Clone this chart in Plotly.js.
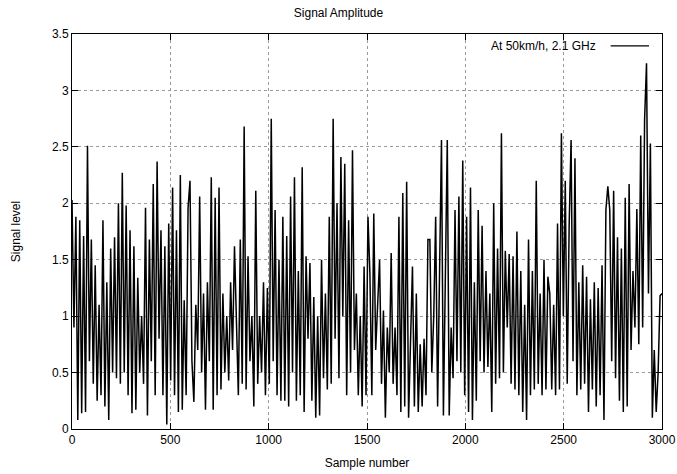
<!DOCTYPE html>
<html>
<head>
<meta charset="utf-8">
<script src="https://cdn.plot.ly/plotly-3.0.1.min.js"></script>
<style>html,body{margin:0;padding:0;background:#fff;}#chart{width:677px;height:474px;}</style>
</head>
<body>
<div id="chart"></div>
<script>
// Signal level values, left to right (approx. every 10 samples)
const seg1 = [2.03,0.9,1.88,0.08,1.85,0.14,1.71,0.15,2.51,0.6,1.68,0.4,1.45,0.25,1.1,0.3,1.85,0.2,1.3,0.08,1.6,0.5,1.7,0.45,2.0,0.4,2.27,0.5,1.98,0.3];
const seg2 = [1.76,0.14,1.62,0.17,1.34,0.5,1.0,0.4,1.96,0.12,1.68,0.6,2.17,0.3,2.37,0.8,1.76,0.3,1.62,0.04,1.82,0.43,2.14,0.3,1.76,0.15,2.25,0.17,1.14,0.3,1.96];
const seg3 = [2.2,0.6,0.24,1.1,0.7,2.06,0.5,1.2,0.17,1.3,0.6,2.23,0.17,2.05,0.3,2.14,0.35,1.2,0.5,1.0,0.43,1.3,0.7,1.62,0.8,0.3,1.68,0.4,2.68,0.35,1.53];
const seg4 = [0.6,1.0,0.2,2.11,0.4,1.0,0.5,1.3,0.3,1.25,0.4,2.75,0.6,1.94,0.3,1.5,0.25,1.88,0.25,1.71,0.2,2.06,0.5,2.23,0.25,1.4,0.3,2.32,0.15,1.53,0.8];
const seg5 = [1.47,0.25,1.17,0.1,1.0,0.12,1.5,0.45,1.2,0.35,1.88,0.4,2.75,0.8,2.0,0.45,2.41,1.0,2.35,0.3,1.85,0.5,2.47,0.7,1.2,0.3,1.0,0.2,1.44,0.3,1.88];
const seg6 = [1.38,0.3,1.91,0.7,1.1,1.5,0.4,1.05,0.1,0.9,0.5,1.56,0.4,0.9,0.3,1.88,0.15,2.09,0.2,2.19,0.1,0.8,1.44,0.2,1.2,0.15,0.75,0.2,0.8,0.3,1.68];
const seg7 = [1.68,0.5,1.0,1.88,0.2,1.3,2.56,0.12,1.14,2.56,0.12,0.9,0.45,1.94,0.6,2.06,0.5,2.38,0.3,1.88,0.15,2.14,0.08,1.3,0.25,1.94,0.6,1.8,0.5,1.4,0.55];
const seg8 = [1.2,0.15,2.0,0.4,1.6,0.45,2.62,0.5,1.58,0.9,1.55,0.4,1.53,0.35,1.75,0.3,1.4,0.15,1.1,0.08,1.68,0.3,1.4,0.35,2.2,0.4,1.2,0.3,1.5,0.35,1.35];
const seg9 = [1.2,0.35,1.1,0.3,1.82,0.35,2.62,1.0,2.2,0.4,1.8,2.56,0.6,2.4,0.3,1.3,0.35,1.45,0.4,1.35,0.15,1.15,0.35,1.3,0.2,1.25,0.3,1.45,0.08,1.94,2.15];
const seg10 = [1.94,0.6,2.11,0.45,1.7,0.25,1.6,0.15,2.05,0.2,2.17,0.7,1.4,0.9,1.95,0.75,2.6,0.9,2.74,3.24,1.2,2.53,0.1,0.7,0.15,0.5,1.18,1.2];

const signal = [].concat(seg1,seg2,seg3,seg4,seg5,seg6,seg7,seg8,seg9,seg10);
const lastSample = 3000;
const samples = signal.map((_, i) => i * lastSample / (signal.length - 1));

const xTicks = [0,500,1000,1500,2000,2500,3000];
const yTicks = [0,0.5,1,1.5,2,2.5,3,3.5];
const legendLabel = "At 50km/h, 2.1 GHz";

const font = {family: "Liberation Sans, Arial, sans-serif", size: 12, color: "#000"};

const axisCommon = {
  showline: true, linecolor: "#000", linewidth: 1, mirror: "ticks",
  ticks: "inside", ticklen: 6, tickcolor: "#000", tickwidth: 1,
  showgrid: true, gridcolor: "#9a9a9a", griddash: "dot", gridwidth: 1,
  zeroline: false, tickfont: font
};

const data = [{
  x: samples, y: signal, type: "scatter", mode: "lines",
  line: {color: "#000", width: 1.5}, name: legendLabel, showlegend: false
}];

const layout = {
  width: 677, height: 474,
  margin: {l: 72, r: 15, t: 34, b: 45},
  paper_bgcolor: "#fff", plot_bgcolor: "#fff",
  font: font,
  title: {text: "Signal Amplitude", font: font, x: 0.5, xanchor: "center", y: 0.972, yanchor: "middle"},
  xaxis: Object.assign({}, axisCommon, {
    range: [0, 3000], tickvals: xTicks, ticktext: xTicks.map(String),
    title: {text: "Sample number", font: font, standoff: 12}
  }),
  yaxis: Object.assign({}, axisCommon, {
    range: [0, 3.5], tickvals: yTicks, ticktext: yTicks.map(String),
    title: {text: "Signal level", font: font, standoff: 28}
  }),
  shapes: [
    {type: "rect", xref: "paper", yref: "paper", x0: 0.66, x1: 0.995, y0: 0.955, y1: 0.995,
     fillcolor: "#fff", line: {width: 0}, layer: "between"},
    {type: "line", xref: "paper", yref: "paper", x0: 0.913, x1: 0.978, y0: 0.97, y1: 0.97,
     line: {color: "#000", width: 1.3}}
  ],
  annotations: [
    {text: legendLabel, xref: "paper", yref: "paper", x: 0.892, y: 0.97,
     xanchor: "right", yanchor: "middle", showarrow: false, font: font}
  ]
};

Plotly.newPlot("chart", data, layout, {displayModeBar: false, staticPlot: true});
</script>
</body>
</html>
